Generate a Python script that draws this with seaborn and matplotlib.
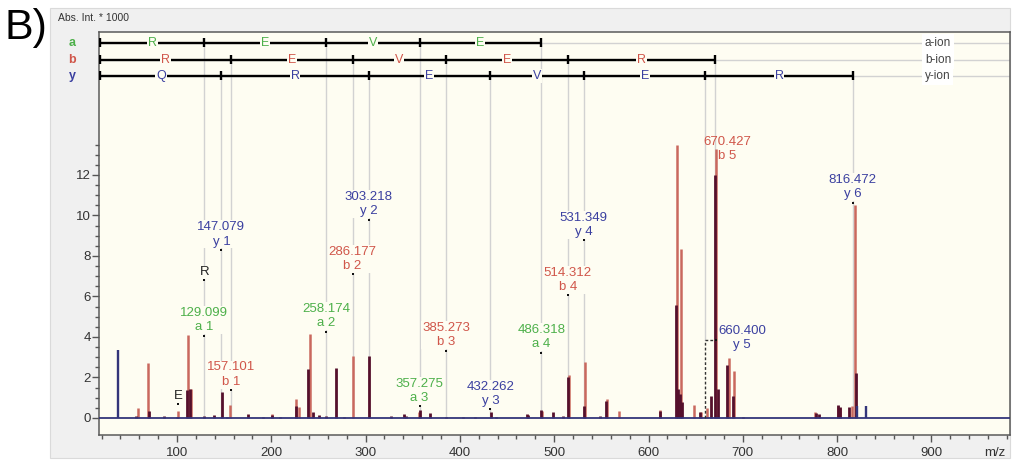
import numpy as np
import matplotlib
matplotlib.use("Agg")
import matplotlib.pyplot as plt
from matplotlib.patches import Rectangle
from matplotlib.ticker import FixedLocator
import seaborn as sns

# ---------------- data ----------------
red_mz = [59, 69, 101.4, 112, 114.8, 156.5, 200.4, 226.5, 229.5, 241, 286.3, 357, 486.7,
          515.2, 532.6, 556.3, 569, 612.2, 630.2, 634.1, 648, 656, 661.7, 671.6, 685, 690.3,
          776.6, 800.6, 803, 815.5, 818.6]
red_int = [0.5, 2.7, 0.35, 4.1, 1.45, 0.65, 0.2, 0.95, 0.55, 4.15, 3.05, 0.3, 0.35,
           2.1, 2.78, 0.92, 0.35, 0.4, 13.5, 8.33, 0.64, 0.3, 0.5, 13.3, 2.95, 2.34,
           0.3, 0.6, 0.5, 0.6, 10.5]
dark_mz = [56.5, 70.3, 86.5, 100.5, 110.6, 114.0, 129.0, 139.2, 147.4, 153, 175, 191, 200.4,
           209, 226, 239.3, 244.6, 251, 258.2, 268.6, 277, 303.9, 327, 340.7, 342.8, 357.3,
           368, 385.5, 403.6, 416, 432.8, 438, 470.8, 472.7, 486.3, 498.4, 509, 514.9, 531.6,
           548.6, 554.9, 612, 629.2, 631.6, 633.3, 635.9, 654.6, 666.3, 671.0, 673.3, 683.6,
           689.3, 700.5, 778, 780.8, 800.6, 803, 813, 819.7]
dark_int = [0.1, 0.35, 0.1, 0.05, 1.38, 1.45, 0.12, 0.15, 1.3, 0.05, 0.18, 0.03, 0.15,
            0.03, 0.6, 2.42, 0.3, 0.15, 0.12, 2.45, 0.05, 3.08, 0.08, 0.2, 0.12, 0.4,
            0.25, 0.05, 0.06, 0.03, 0.3, 0.05, 0.2, 0.15, 0.4, 0.32, 0.1, 2.04, 0.6,
            0.1, 0.84, 0.35, 5.58, 1.42, 1.2, 0.8, 0.3, 1.08, 12.0, 1.43, 2.6,
            1.08, 0.03, 0.25, 0.2, 0.65, 0.55, 0.55, 2.2]
navy_mz = [37.1, 820.8, 830.3]
navy_int = [3.36, 0.6, 0.6]

a_ions = [129.099, 258.174, 357.275, 486.318]
a_res = ['R', 'E', 'V', 'E']
b_ions = [157.101, 286.177, 385.273, 514.312, 670.427]
b_res = ['R', 'E', 'V', 'E', 'R']
y_ions = [147.079, 303.218, 432.262, 531.349, 660.400, 816.472]
y_res = ['Q', 'R', 'E', 'V', 'E', 'R']

# annotations: text, m/z, marker height, series
ann_text = ['129.099\na 1', '147.079\ny 1', '157.101\nb 1', '258.174\na 2', '286.177\nb 2',
            '303.218\ny 2', '357.275\na 3', '385.273\nb 3', '432.262\ny 3', '486.318\na 4',
            '514.312\nb 4', '531.349\ny 4', '816.472\ny 6']
ann_mz = [129.099, 147.079, 157.101, 258.174, 286.177, 303.218, 357.275, 385.273, 432.262,
          486.318, 514.312, 531.349, 816.472]
ann_h = [4.07, 8.3, 1.38, 4.27, 7.09, 9.8, 0.57, 3.33, 0.42, 3.23, 6.05, 8.77, 10.64]
ann_ser = ['a', 'y', 'b', 'a', 'b', 'y', 'a', 'b', 'y', 'a', 'b', 'y', 'y']
imm_text = ['R', 'E']
imm_mz = [129.1, 101.5]
imm_h = [6.8, 0.7]

# ---------------- style ----------------
sns.set_theme(style='white')
plt.rcParams['font.family'] = ['Liberation Sans', 'DejaVu Sans']

GREEN = '#4DB04A'
RED_T = '#D0564A'
BLUE_T = '#3B40A0'
RED_P = '#C9685E'
DARK_P = '#55102C'
NAVY_P = '#33357A'
GRAY = '#D2D2D2'
BG = '#FEFDF2'
col = {'a': GREEN, 'b': RED_T, 'y': BLUE_T}

W, H = 1013, 463
fig = plt.figure(figsize=(W / 100, H / 100), dpi=100)
fig.patch.set_facecolor('white')
panel = Rectangle((50 / W, 1 - 458 / H), 960 / W, 450 / H, transform=fig.transFigure,
                  facecolor='#F0F0F0', edgecolor='#DADADA', lw=0.8, zorder=-10)
fig.add_artist(panel)
ax = fig.add_axes([99 / W, 28 / H, 911 / W, 403 / H])
ax.set_zorder(1)
ax.set_facecolor(BG)
X0, X1 = 17.3, 983.3
ax.set_xlim(X0, X1)
ax.set_ylim(-0.84, 19.06)

for s in ax.spines.values():
    s.set_color('#5A5A5A')
    s.set_linewidth(1.1)

# ladder rows
rows = {'a': 18.52, 'b': 17.68, 'y': 16.89}
row_lbl = {'a': 'a-ion', 'b': 'b-ion', 'y': 'y-ion'}
start = 18.5
for key, ions, res in [('a', a_ions, a_res), ('b', b_ions, b_res), ('y', y_ions, y_res)]:
    ry = rows[key]
    ax.hlines(ry, X0, X1, color=GRAY, lw=1.0, zorder=1)
    bounds = [start] + ions
    ax.hlines(ry, bounds[0], bounds[-1], color='black', lw=1.7, zorder=3)
    ax.vlines(bounds, ry - 0.22, ry + 0.22, color='black', lw=1.7, zorder=3)
    for i, r in enumerate(res):
        ax.text((bounds[i] + bounds[i + 1]) / 2, ry, r, color=col[key], fontsize=9,
                ha='center', va='center', zorder=4,
                bbox=dict(facecolor=BG, edgecolor='none', pad=0.6))
    ax.text(893, ry, row_lbl[key], color='#444444', fontsize=8.5, ha='left', va='center',
            zorder=4, bbox=dict(facecolor='white', edgecolor='none', pad=2.0))
    ax.text(X0 - 27 / 0.943, ry, key, color=col[key], fontsize=9, fontweight='bold',
            ha='center', va='center', clip_on=False)
    # vertical gray guide lines
    for mz in ions:
        if key == 'y' and abs(mz - 660.4) < 0.01:
            ax.vlines(mz, 3.85, ry, color=GRAY, lw=1.0, zorder=1)
        else:
            ax.vlines(mz, 0, ry, color=GRAY, lw=1.0, zorder=1)

# spectrum
ax.axhline(0, color=NAVY_P, lw=1.3, zorder=2.6)
ax.vlines(red_mz, 0, red_int, color=RED_P, lw=1.8, zorder=2.2)
ax.vlines(dark_mz, 0, dark_int, color=DARK_P, lw=2.0, zorder=2.3)
ax.vlines(navy_mz, 0, navy_int, color=NAVY_P, lw=1.7, zorder=2.3)

# annotation markers
dots_x = ann_mz + imm_mz + [672.0]
dots_y = ann_h + imm_h + [3.85]
sns.scatterplot(x=dots_x, y=dots_y, marker='s', s=3, color='#111111', linewidth=0, ax=ax,
                zorder=6, legend=False)

for t, mz, h, s in zip(ann_text, ann_mz, ann_h, ann_ser):
    ax.annotate(t, (mz, h), xytext=(0, 1.5), textcoords='offset points', ha='center',
                va='bottom', fontsize=9.5, color=col[s], linespacing=1.3, zorder=5,
                bbox=dict(facecolor=BG, edgecolor='none', pad=0.5))
for t, mz, h in zip(imm_text, imm_mz, imm_h):
    ax.annotate(t, (mz, h), xytext=(0, 1.5), textcoords='offset points', ha='center',
                va='bottom', fontsize=9.5, color='#222222', zorder=5,
                bbox=dict(facecolor=BG, edgecolor='none', pad=0.5))
# b5 label (offset right)
ax.annotate('670.427\nb 5', (683.5, 12.52), xytext=(0, 1.5), textcoords='offset points',
            ha='center', va='bottom', fontsize=9.5, color=RED_T, linespacing=1.3, zorder=5)
# y5 label with dashed leader
ax.vlines(660.4, 0, 3.85, color='#333333', lw=1.0, linestyles=(0, (2, 1.5)), zorder=5)
ax.hlines(3.85, 660.4, 672.0, color='#333333', lw=1.0, linestyles=(0, (2, 1.5)), zorder=5)
ax.text(699, 3.95, '660.400\ny 5', ha='center', va='center', fontsize=9.5, color=BLUE_T,
        linespacing=1.3, zorder=5)

# ticks
ax.xaxis.set_major_locator(FixedLocator(list(range(100, 1000, 100))))
ax.xaxis.set_minor_locator(FixedLocator([v for v in range(20, 981, 20) if v % 100]))
ax.yaxis.set_major_locator(FixedLocator(list(range(0, 13, 2))))
ax.yaxis.set_minor_locator(FixedLocator([v / 2 for v in range(1, 28) if v % 4]))
ax.tick_params(axis='both', which='both', direction='out', colors='#555555',
               labelcolor='#333333', labelsize=9.5, bottom=True, left=True)
ax.tick_params(axis='x', which='major', length=5, width=1, pad=4)
ax.tick_params(axis='x', which='minor', length=3, width=1)
ax.tick_params(axis='y', which='major', length=5, width=1, pad=1)
ax.tick_params(axis='y', which='minor', length=3, width=1)

fig.text(995 / W, 1 - 453 / H, 'm/z', fontsize=9.5, color='#333333', ha='center', va='center')
fig.text(58 / W, 1 - 18 / H, 'Abs. Int. * 1000', fontsize=7.5, color='#333333',
         ha='left', va='center')
fig.text(4 / W, 1 - 28 / H, 'B)', fontsize=31, color='black', ha='left', va='center')

fig.savefig('out.png', dpi=100, facecolor='white')
